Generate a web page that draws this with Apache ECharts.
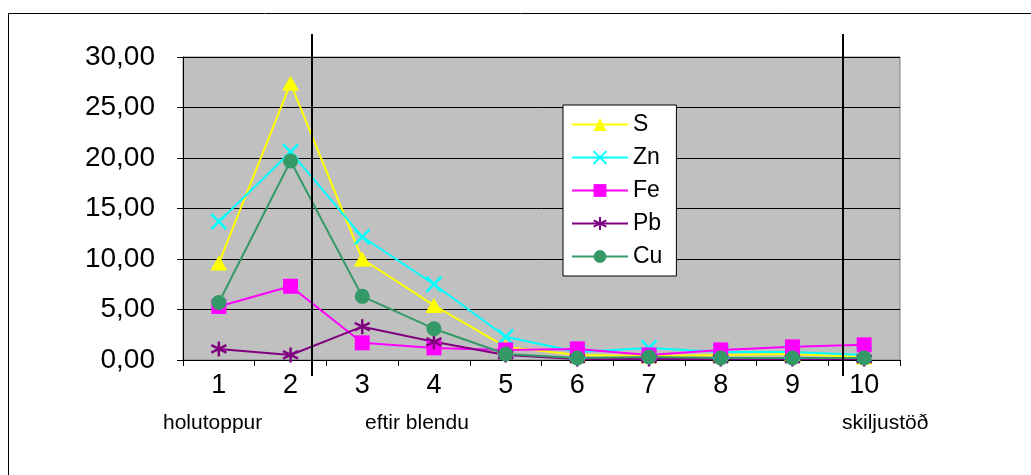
<!DOCTYPE html>
<html>
<head>
<meta charset="utf-8">
<script src="https://cdn.jsdelivr.net/npm/echarts@6/dist/echarts.min.js"></script>
<style>
  html, body { margin: 0; padding: 0; background: #fff; }
  #chart { width: 1031px; height: 475px; }
</style>
</head>
<body>
<div id="chart"></div>
<script>
// ---- data ----
const categories = ['1', '2', '3', '4', '5', '6', '7', '8', '9', '10'];
const sValues  = [9.6, 27.4, 10.0, 5.4, 1.3, 0.5, 0.4, 0.5, 0.6, 0.3];
const znValues = [13.7, 20.6, 12.2, 7.5, 2.3, 0.8, 1.2, 0.8, 0.8, 0.5];
const feValues = [5.3, 7.3, 1.7, 1.2, 1.0, 1.1, 0.5, 1.0, 1.3, 1.5];
const pbValues = [1.1, 0.5, 3.3, 1.8, 0.5, 0.1, 0.1, 0.1, 0.1, 0.1];
const cuValues = [5.7, 19.7, 6.3, 3.1, 0.6, 0.2, 0.3, 0.2, 0.2, 0.2];
const seriesNames = ['S', 'Zn', 'Fe', 'Pb', 'Cu'];
const yTicks = { min: 0, max: 30, interval: 5 };
const annotations = ['holutoppur', 'eftir blendu', 'skiljustöð'];
const dividerPositions = [2.3, 9.7]; // in category units (1-based)

const FONT = '"Liberation Sans", Arial, sans-serif';
const crossPath = 'path://M0,0L10,10M10,0L0,10';
const starPath = 'path://M5,0L5,10M0.7,2.5L9.3,7.5M9.3,2.5L0.7,7.5';

function mkSeries(name, data, color, symbol, size, isStroke) {
  return {
    name: name,
    type: 'line',
    data: data,
    symbol: symbol,
    symbolSize: size,
    showAllSymbol: true,
    lineStyle: { color: color, width: 2 },
    itemStyle: isStroke
      ? { color: 'none', borderColor: color, borderWidth: 2.5 }
      : { color: color, borderWidth: 0 },
    emphasis: { disabled: true },
    animation: false
  };
}

const chart = echarts.init(document.getElementById('chart'), null, { renderer: 'canvas' });

const option = {
  animation: false,
  backgroundColor: '#ffffff',
  grid: {
    left: 183, top: 57, right: 131, bottom: 115,
    show: true, backgroundColor: '#C0C0C0', borderColor: '#808080', borderWidth: 1
  },
  legend: {
    orient: 'vertical',
    left: 563, top: 105,
    padding: [8, 14, 8, 8],
    itemWidth: 56, itemHeight: 16,
    itemGap: 10,
    backgroundColor: '#ffffff',
    borderColor: '#000000', borderWidth: 1,
    textStyle: { fontFamily: FONT, fontSize: 23, color: '#000' },
    data: seriesNames
  },
  xAxis: {
    type: 'category',
    data: categories,
    boundaryGap: true,
    axisLine: { lineStyle: { color: '#000', width: 1 } },
    axisTick: { show: true, inside: false, length: 6, lineStyle: { color: '#000' } },
    axisLabel: { fontFamily: FONT, fontSize: 27, color: '#000', margin: 12 },
    splitLine: { show: false }
  },
  yAxis: {
    type: 'value',
    min: yTicks.min, max: yTicks.max, interval: yTicks.interval,
    axisLine: { show: true, lineStyle: { color: '#000', width: 1 } },
    axisTick: { show: true, inside: false, length: 6, lineStyle: { color: '#000' } },
    axisLabel: {
      fontFamily: FONT, fontSize: 28, color: '#000', margin: 28,
      formatter: v => v.toFixed(2).replace('.', ',')
    },
    splitLine: { show: true, lineStyle: { color: '#000', width: 1 } }
  },
  series: [
    mkSeries('S', sValues, '#FFFF00', 'triangle', [17, 15], false),
    mkSeries('Zn', znValues, '#00FFFF', crossPath, 15, true),
    mkSeries('Fe', feValues, '#FF00FF', 'rect', 15, false),
    mkSeries('Pb', pbValues, '#800080', starPath, 15, true),
    mkSeries('Cu', cuValues, '#339966', 'circle', 15, false)
  ]
};
chart.setOption(option);

function catToPixelX(pos) {
  const i0 = Math.floor(pos) - 1;
  const f = pos - Math.floor(pos);
  const p0 = chart.convertToPixel({ xAxisIndex: 0 }, i0);
  const p1 = chart.convertToPixel({ xAxisIndex: 0 }, i0 + 1);
  return p0 + (p1 - p0) * f;
}

const graphics = [
  { type: 'rect', shape: { x: 8.5, y: 13.5, width: 1100, height: 600 },
    style: { fill: 'none', stroke: '#000', lineWidth: 1 }, silent: true, z: 0 }
];
dividerPositions.forEach(p => {
  const x = Math.round(catToPixelX(p));
  graphics.push({ type: 'line', shape: { x1: x, y1: 34, x2: x, y2: 376 },
    style: { stroke: '#000', lineWidth: 2 }, z: 50, silent: true });
});
const annLeft = [163, 365, 842];
annotations.forEach((t, i) => {
  graphics.push({ type: 'text', x: annLeft[i], y: 423,
    style: { text: t, font: '21px ' + FONT, fill: '#000', textVerticalAlign: 'middle', verticalAlign: 'middle' },
    silent: true, z: 50 });
});
chart.setOption({ graphic: graphics });
</script>
</body>
</html>
